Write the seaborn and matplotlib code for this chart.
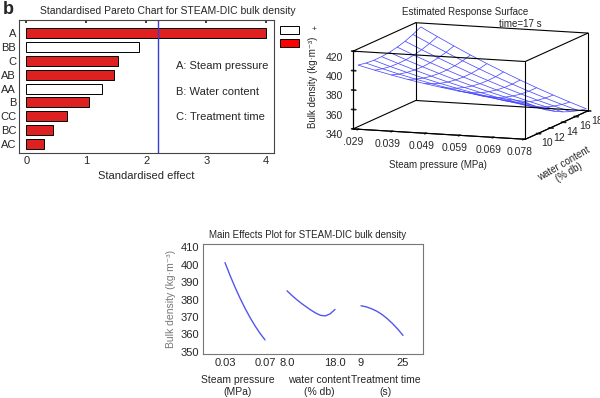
import numpy as np
import pandas as pd
import matplotlib
matplotlib.use("Agg")
import matplotlib.pyplot as plt
from matplotlib.patches import Rectangle
from mpl_toolkits.mplot3d import proj3d
import seaborn as sns

# ---- Pareto chart data ----
terms = ["A", "BB", "C", "AB", "AA", "B", "CC", "BC", "AC"]
effects = [4.0, 1.88, 1.53, 1.47, 1.26, 1.04, 0.68, 0.44, 0.29]
signs = ["-", "+", "-", "-", "+", "-", "-", "-", "-"]
critical_value = 2.19
factor_notes = ["A: Steam pressure", "B: Water content", "C: Treatment time"]

# ---- response surface (time = 17 s), rows = water content, cols = pressure ----
pressure_grid = [0.029, 0.0339, 0.0388, 0.0437, 0.0486, 0.0535,
                 0.0584, 0.0633, 0.0682, 0.0731, 0.078]
water_grid = [8, 9.25, 10.5, 11.75, 13, 14.25, 15.5, 16.75, 18]
surface = [
    [406.0, 401.8, 397.9, 394.3, 391.1, 388.3, 385.7, 383.5, 381.7, 380.2, 379.0],
    [404.4, 399.6, 395.1, 391.0, 387.2, 383.7, 380.6, 377.8, 375.4, 373.3, 371.5],
    [403.6, 398.2, 393.2, 388.4, 384.0, 380.0, 376.3, 372.9, 369.9, 367.2, 364.9],
    [403.7, 397.7, 392.0, 386.7, 381.7, 377.1, 372.8, 368.9, 365.2, 362.0, 359.0],
    [404.5, 397.9, 391.7, 385.8, 380.2, 375.0, 370.1, 365.6, 361.4, 357.5, 354.0],
    [406.2, 399.0, 392.2, 385.7, 379.5, 373.7, 368.3, 363.1, 358.3, 353.9, 349.8],
    [408.6, 400.9, 393.5, 386.4, 379.6, 373.3, 367.2, 361.5, 356.1, 351.1, 346.4],
    [411.9, 403.6, 395.6, 387.9, 380.6, 373.6, 367.0, 360.6, 354.7, 349.1, 343.8],
    [416.0, 407.1, 398.5, 390.2, 382.3, 374.8, 367.5, 360.6, 354.1, 347.9, 342.0],
]
pressure_ticks = [0.029, 0.039, 0.049, 0.059, 0.069, 0.078]
pressure_ticklabels = [".029", "0.039", "0.049", "0.059", "0.069", "0.078"]
water_ticks = [10, 12, 14, 16, 18]
density_ticks = [340, 360, 380, 400, 420]

# ---- main effects data ----
pressure_levels = [0.03, 0.035, 0.04, 0.045, 0.05, 0.055, 0.06, 0.065, 0.07]
pressure_effect = [401.2, 393.9, 387.1, 380.8, 375.0, 369.7, 364.9, 360.6, 356.8]
water_levels = [8, 9, 10, 11, 12, 13, 14, 15, 16, 17, 18]
water_effect = [385.0, 382.4, 380.0, 377.8, 375.8, 373.9, 372.2, 370.9, 370.6, 371.8, 374.3]
time_levels = [9, 11, 13, 15, 17, 19, 21, 23, 25]
time_effect = [376.4, 375.8, 374.7, 373.3, 371.4, 369.0, 366.2, 363.0, 359.4]
effect_ticklabels = ["0.03", "0.07", "8.0", "18.0", "9", "25"]

W, H = 600, 398
sns.set_theme(style="white")
plt.rcParams["font.family"] = ["Liberation Sans", "DejaVu Sans"]
fig = plt.figure(figsize=(6, 3.98), dpi=100)


def rect(x0, y0, x1, y1):
    # pixel box (top-left origin) -> figure fraction
    return [x0 / W, 1 - y1 / H, (x1 - x0) / W, (y1 - y0) / H]


def fp(x, y):
    return x / W, 1 - y / H


fig.text(*fp(3, 9), "b", fontsize=13, weight="bold", va="center", ha="left")

# ---------------- Pareto chart ----------------
ax1 = fig.add_axes(rect(19, 20, 274, 153))
pareto = pd.DataFrame({"term": terms, "effect": effects, "sign": signs})
sns.barplot(data=pareto, x="effect", y="term", hue="sign", orient="h",
            palette={"+": "white", "-": "#ff0000"}, edgecolor="black",
            linewidth=0.7, width=0.72, dodge=False, legend=False, ax=ax1)
ax1.axvline(critical_value, color="#3a3ad8", lw=1)
ax1.set_xlim(-0.12, 4.13)
ax1.set_ylim(8.65, -0.94)
ax1.set_xticks([0, 1, 2, 3, 4])
ax1.set_ylabel("")
ax1.set_xlabel("Standardised effect", fontsize=8, labelpad=4)
ax1.tick_params(axis="both", labelsize=8, pad=2)
ax1.tick_params(axis="x", direction="in", length=2, top=True)
ax1.tick_params(axis="y", length=0)
for s in ax1.spines.values():
    s.set_color("#444444")
    s.set_linewidth(0.8)
for i, note in enumerate(factor_notes):
    ax1.text(2.5, 2.37 + i * 1.85, note, fontsize=8, va="center", ha="left")
fig.text(*fp(168, 11), "Standardised Pareto Chart for STEAM-DIC bulk density",
         fontsize=7.5, ha="center", va="center")
fig.patches.append(Rectangle(fp(280, 34), 19 / W, 8 / H, transform=fig.transFigure,
                             facecolor="white", edgecolor="black", lw=0.7))
fig.patches.append(Rectangle(fp(280, 47), 19 / W, 8 / H, transform=fig.transFigure,
                             facecolor="#ff0000", edgecolor="black", lw=0.7))
fig.text(*fp(314, 29), "+", fontsize=6, ha="center", va="center")

# ---------------- response surface ----------------
ax2 = fig.add_axes(rect(320, -65, 620, 235), projection="3d")
ax2.patch.set_alpha(0)
P, Wc = np.meshgrid(pressure_grid, water_grid)
Z = np.array(surface)
ax2.plot_wireframe(P, Wc, Z, color="#4a4aff", lw=0.55)
ax2.set_proj_type("ortho")
ax2.view_init(elev=9.5, azim=-70)
xl, yl, zl = (0.0275, 0.0785), (8, 18), (340, 420)
ax2.set_xlim(xl)
ax2.set_ylim(yl)
ax2.set_zlim(zl)
for a in (ax2.xaxis, ax2.yaxis, ax2.zaxis):
    a.set_pane_color((1, 1, 1, 0))
    a.line.set_color("black")
    a.line.set_linewidth(0.8)
ax2.zaxis._axinfo["juggled"] = (1, 2, 0)
ax2.grid(False)
for xs in xl:
    for ys in yl:
        ax2.plot([xs, xs], [ys, ys], zl, color="black", lw=0.8)
    for zs in zl:
        ax2.plot([xs, xs], yl, [zs, zs], color="black", lw=0.8)
for ys in yl:
    for zs in zl:
        ax2.plot(xl, [ys, ys], [zs, zs], color="black", lw=0.8)
ax2.set_xticks(pressure_ticks)
ax2.set_xticklabels(pressure_ticklabels)
ax2.set_yticks(water_ticks)
ax2.set_zticks(density_ticks)
ax2.tick_params(axis="both", labelsize=7.5, pad=-2)
ax2.tick_params(axis="x", pad=0)
ax2.tick_params(axis="z", labelsize=7.5, pad=1)

# fit the projected box onto its place in the reference
cx, cy, cz = np.meshgrid(xl, yl, zl)
cx, cy, cz = cx.ravel(), cy.ravel(), cz.ravel()


def box_bbox():
    fig.canvas.draw()
    px, py, _ = proj3d.proj_transform(cx, cy, cz, ax2.get_proj())
    d = ax2.transData.transform(np.column_stack([px, py]))
    return d[:, 0].min(), d[:, 0].max(), d[:, 1].min(), d[:, 1].max()


zoom = 1.0
for _ in range(3):
    ax2.set_box_aspect((1, 1, 0.43), zoom=zoom)
    x0, x1, y0, y1 = box_bbox()
    zoom *= (588 - 353) / (x1 - x0)
ax2.set_box_aspect((1, 1, 0.43), zoom=zoom)
x0, x1, y0, y1 = box_bbox()
dx = (353 + 588) / 2 - (x0 + x1) / 2
dy = (H - 81) - (y0 + y1) / 2
pos = ax2.get_position()
ax2.set_position([pos.x0 + dx / W, pos.y0 + dy / H, pos.width, pos.height])

fig.text(*fp(465, 12), "Estimated Response Surface", fontsize=7, ha="center", va="center")
fig.text(*fp(520, 24), "time=17 s", fontsize=7, ha="center", va="center")
fig.text(*fp(438, 165), "Steam pressure (MPa)", fontsize=7, ha="center", va="center")
fig.text(*fp(313, 82), "Bulk density (kg·m⁻³)", fontsize=7, rotation=90,
         ha="center", va="center")
fig.text(*fp(566, 168), "water content\n(% db)", fontsize=7, rotation=30,
         ha="center", va="center", linespacing=1.0)

# ---------------- main effects ----------------
ax3 = fig.add_axes(rect(203, 244, 423, 354))
spans = [(0.0, 1.0), (1.55, 2.75), (3.4, 4.45)]
frames = []
for name, lv, ef, (s0, s1) in zip(["pressure", "water", "time"],
                                  [pressure_levels, water_levels, time_levels],
                                  [pressure_effect, water_effect, time_effect], spans):
    lv = np.array(lv, dtype=float)
    pos = s0 + (lv - lv[0]) / (lv[-1] - lv[0]) * (s1 - s0)
    frames.append(pd.DataFrame({"pos": pos, "density": ef, "factor": name}))
effects_df = pd.concat(frames, ignore_index=True)
sns.lineplot(data=effects_df, x="pos", y="density", hue="factor",
             palette=["#5555ee"] * 3, estimator=None, lw=1, legend=False, ax=ax3)
ax3.set_xlim(-0.55, 4.95)
ax3.set_ylim(348.7, 411.9)
ax3.set_yticks([350, 360, 370, 380, 390, 400, 410])
ax3.set_xticks([v for sp in spans for v in sp])
ax3.set_xticklabels(effect_ticklabels)
ax3.set_xlabel("")
ax3.set_ylabel("Bulk density (kg·m⁻³)", fontsize=7.5, color="#777777", labelpad=3)
ax3.tick_params(axis="both", labelsize=8, pad=3)
ax3.tick_params(axis="y", direction="in", length=2)
ax3.tick_params(axis="x", length=0)
for s in ax3.spines.values():
    s.set_color("#777777")
    s.set_linewidth(0.8)
fig.text(*fp(308, 235), "Main Effects Plot for STEAM-DIC bulk density",
         fontsize=7, ha="center", va="center")
for x, lab in [(238, "Steam pressure\n(MPa)"), (319, "water content\n(% db)"),
               (386, "Treatment time\n(s)")]:
    fig.text(*fp(x, 386), lab, fontsize=7.5, ha="center", va="center", linespacing=1.25)

fig.savefig("out.png", dpi=100)
